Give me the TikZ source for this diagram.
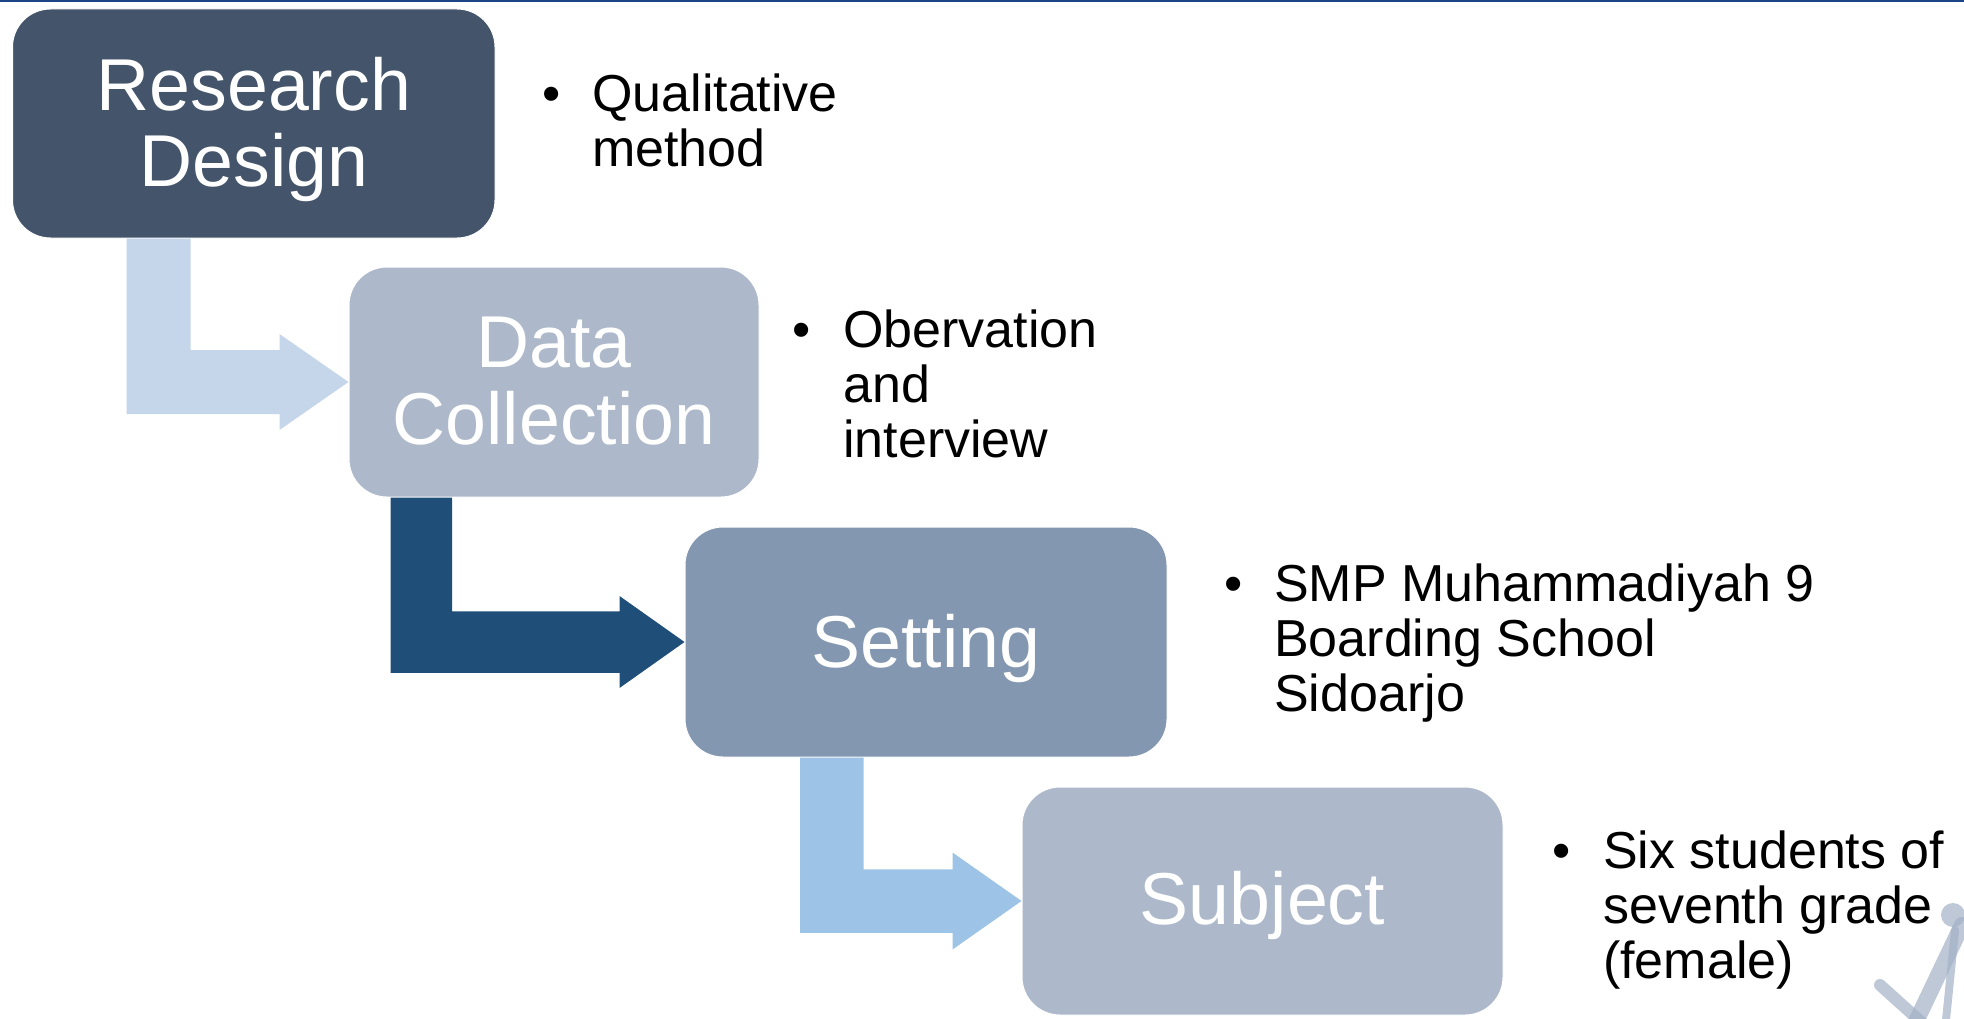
\documentclass[tikz,border=0pt]{standalone}
\usepackage{fontspec}
\setmainfont{Liberation Sans}
\usetikzlibrary{calc}

\definecolor{rule}{HTML}{1C4587}
\definecolor{stepA}{HTML}{44546A}
\definecolor{stepB}{HTML}{ADB9CA}
\definecolor{stepC}{HTML}{8497B0}
\definecolor{arrA}{HTML}{C5D5EA}
\definecolor{arrB}{HTML}{1F4E79}
\definecolor{arrC}{HTML}{9DC3E6}
\definecolor{logo}{HTML}{A3B0C6}

% bent arrow: colour, source node, target node, shaft offset from source's left edge,
% shaft width, head length, head half height
\newcommand{\bentarrow}[7]{%
  \fill[#1] let \p1=(#2.south west), \p2=(#3.west) in
    (\x1+#4pt,\y1) -- (\x1+#4pt+#5pt,\y1)
    -- (\x1+#4pt+#5pt,\y2+0.5*#5pt) -- (\x2-#6pt,\y2+0.5*#5pt)
    -- (\x2-#6pt,\y2+#7pt) -- (\x2,\y2) -- (\x2-#6pt,\y2-#7pt)
    -- (\x2-#6pt,\y2-0.5*#5pt) -- (\x1+#4pt,\y2-0.5*#5pt) -- cycle;}

\tikzset{
  stepbox/.style={rectangle, rounded corners=38pt, draw=white, line width=1pt, inner sep=0pt},
  boxlabel/.style={anchor=base, inner sep=0pt, text=white, font=\fontsize{73.5}{75}\selectfont},
  bullet/.style={anchor=base, inner sep=0pt, font=\fontsize{52}{53}\selectfont},
  itemline/.style={anchor=base west, inner sep=0pt, font=\fontsize{52}{53}\selectfont},
}

\begin{document}
\begin{tikzpicture}[x=1pt, y=-1pt]
\useasboundingbox (0,0) rectangle (1964,1019);

% slide rule along the top edge
\fill[rule] (0,0) rectangle (1964,2.5);

% faint logo strokes in the lower right corner
\begin{scope}[logo, opacity=0.7, line cap=round]
  \draw[line width=16pt] (1912,1030) -- (1962,925);
  \draw[line width=12pt] (1880,985) -- (1930,1030);
  \draw[line width=8pt] (1945,1030) -- (1955,930);
  \fill (1953,915) circle (12);
\end{scope}

% process steps
\node[stepbox, fill=stepA, minimum width=482.5pt, minimum height=229pt] (rd) at (253.75,123.5) {};
\node[stepbox, fill=stepB, minimum width=410pt, minimum height=230pt] (dc) at (554,382) {};
\node[stepbox, fill=stepC, minimum width=482pt, minimum height=230pt] (st) at (926,642) {};
\node[stepbox, fill=stepB, minimum width=481pt, minimum height=228pt] (sj) at (1262.5,901) {};

% bent arrows between the steps
\bentarrow{arrA}{rd}{dc}{114.5}{64}{69}{48}
\bentarrow{arrB}{dc}{st}{42}{61.5}{65}{46}
\bentarrow{arrC}{st}{sj}{115.5}{63.5}{69}{48.5}

% step titles
\node[boxlabel] (rd1) at (253.75,110.5) {Research};
\node[boxlabel] (rd2) at (253.75,186) {Design};
\node[boxlabel] (dc1) at (554,367.5) {Data};
\node[boxlabel] (dc2) at (554,444.5) {Collection};
\node[boxlabel] (st1) at (926,667) {Setting};
\node[boxlabel] (sj1) at (1262.5,924) {Subject};

% bullet notes
\node[bullet] (b1) at (551.7,111.7) {•};
\node[itemline] (t11) at (592,111.7) {Qualitative};
\node[itemline] (t12) at (592,166.5) {method};

\node[bullet] (b2) at (801.7,347.5) {•};
\node[itemline] (t21) at (843,347.5) {Obervation};
\node[itemline] (t22) at (843,402.5) {and};
\node[itemline] (t23) at (843,457.5) {interview};

\node[bullet] (b3) at (1233.5,601) {•};
\node[itemline] (t31) at (1274,601) {SMP Muhammadiyah 9};
\node[itemline] (t32) at (1274,656) {Boarding School};
\node[itemline] (t33) at (1274,711) {Sidoarjo};

\node[bullet] (b4) at (1562,868) {•};
\node[itemline] (t41) at (1603,868) {Six students of};
\node[itemline] (t42) at (1603,923) {seventh grade};
\node[itemline] (t43) at (1603,978) {(female)};
\end{tikzpicture}
\end{document}
